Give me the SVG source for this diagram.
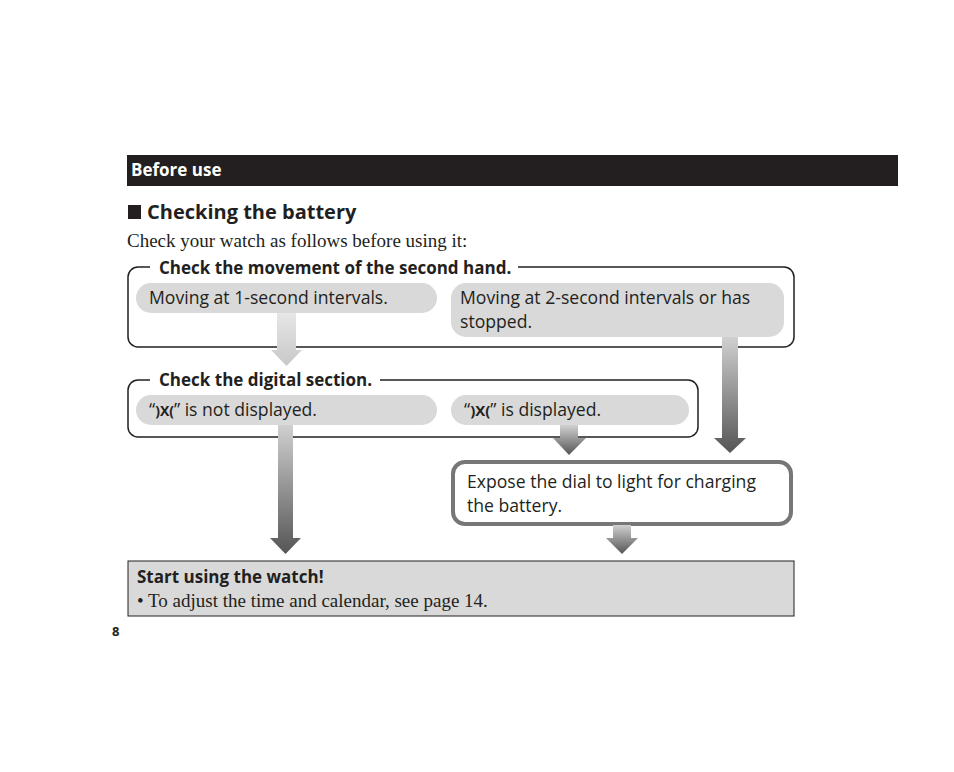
<svg xmlns="http://www.w3.org/2000/svg" width="954" height="772" viewBox="0 0 954 772">
<style>
.s{font-family:"Open Sans","Liberation Sans",sans-serif;font-size:17.6px;fill:#231f20}
.b{font-weight:bold;font-size:17px}
.r{font-family:"Liberation Serif",serif;font-size:19px;fill:#231f20}
.pill{fill:#d9d9d9}
.frame{fill:none;stroke:#231f20;stroke-width:1.5}
</style>
<defs>
<linearGradient id="g" x1="0" y1="0" x2="0" y2="1"><stop offset="0" stop-color="#d0d0d0"/><stop offset="1" stop-color="#555"/></linearGradient>
<linearGradient id="g2" x1="0" y1="0" x2="0" y2="1"><stop offset="0" stop-color="#e6e6e6"/><stop offset="1" stop-color="#c8c8c8"/></linearGradient>
</defs>
<rect width="954" height="772" fill="#fff"/>
<rect x="127" y="155" width="771" height="31" fill="#231f20"/>
<text x="131" y="176" class="s b" style="fill:#fff">Before use</text>
<rect x="128" y="205" width="13" height="14" fill="#231f20"/>
<text x="147" y="219" class="s b" style="font-size:20px">Checking the battery</text>
<text x="127" y="247" class="r">Check your watch as follows before using it:</text>
<g id="box1">
<rect x="128" y="267" width="666" height="80" rx="10" class="frame"/>
<rect x="150" y="258" width="368" height="18" fill="#fff"/>
<text x="159" y="274" class="s b">Check the movement of the second hand.</text>
</g>
<g id="n1"><rect x="136" y="283" width="301" height="30" rx="15" class="pill"/><text x="149" y="304" class="s">Moving at 1-second intervals.</text></g>
<g id="n2"><rect x="451" y="283" width="333" height="54" rx="15" class="pill"/><text x="460" y="304" class="s">Moving at 2-second intervals or has</text><text x="460" y="328" class="s">stopped.</text></g>
<g id="box2">
<rect x="128" y="380" width="570" height="57" rx="10" class="frame"/>
<rect x="150" y="371" width="230" height="18" fill="#fff"/>
<text x="159" y="386" class="s b">Check the digital section.</text>
</g>
<g id="n3"><rect x="136" y="395" width="301" height="30" rx="15" class="pill"/><text x="149" y="416" class="s">“<tspan class="b" style="font-size:14px">)X(</tspan>” is not displayed.</text></g>
<g id="n4"><rect x="451" y="395" width="238" height="30" rx="15" class="pill"/><text x="464" y="416" class="s">“<tspan class="b" style="font-size:15px">)X(</tspan>” is displayed.</text></g>
<g id="n5"><rect x="453" y="462" width="338" height="62" rx="12" fill="#fff" stroke="#777" stroke-width="4"/><text x="467" y="488" class="s">Expose the dial to light for charging</text><text x="467" y="512" class="s">the battery.</text></g>
<g id="n6"><rect x="128" y="561" width="666" height="55" fill="#d9d9d9" stroke="#231f20" stroke-width="1"/><text x="137" y="583" class="s b">Start using the watch!</text><text x="137" y="607" class="r">• To adjust the time and calendar, see page 14.</text></g>
<g id="connectors" fill="url(#g)">
<path d="M277 313H296V350H302L286.5 366L271 350H277Z" fill="url(#g2)"/>
<path d="M278 425H293V538H301L285.5 554L270 538H278Z"/>
<path d="M560 425H578V438H586L569 455L553 438H560Z"/>
<path d="M722 337H738V438H746L730 453L714 438H722Z"/>
<path d="M613 525H631V538H638L622 554L606 538H613Z"/>
</g>
<text x="112" y="636" class="s b" style="font-size:13px">8</text>
</svg>
